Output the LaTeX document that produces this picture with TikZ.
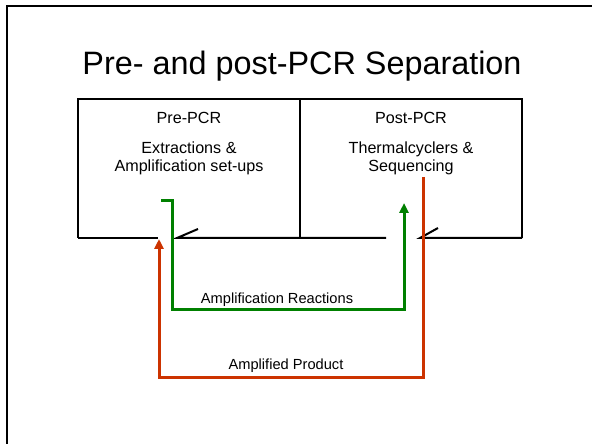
\documentclass[tikz,border=0pt]{standalone}
\usepackage{fontspec}
\setmainfont{Liberation Sans}
\usetikzlibrary{arrows.meta}
\definecolor{ampgreen}{RGB}{0,128,0}
\definecolor{prodred}{RGB}{204,51,0}
\tikzset{
  wall/.style={line width=2bp},
  greenpath/.style={ampgreen, line width=3bp},
  redpath/.style={prodred, line width=3bp},
  tip/.style={-{Triangle[length=10bp,width=9bp]}}
}
\begin{document}
\begin{tikzpicture}[x=1bp,y=-1bp]
	\useasboundingbox (0,0) rectangle (592,444);
	%рамка слайда
	\draw[wall] (7,444) -- (7,6) -- (592,6);
	\node (title) at (302,75) [anchor=base] {\fontsize{32.5}{36}\selectfont Pre- and post-PCR Separation};
	%комнаты
	\coordinate (ltop) at (78,99);
	\coordinate (lbot) at (78,238);
	\coordinate (mtop) at (300,99);
	\coordinate (mbot) at (300,238);
	\coordinate (rtop) at (522,99);
	\coordinate (rbot) at (522,238);
	\coordinate (door1a) at (158,238);
	\coordinate (door1b) at (177,238);
	\coordinate (door1c) at (198,229);
	\coordinate (door2a) at (386,238);
	\coordinate (door2b) at (420,238);
	\coordinate (door2c) at (438,228);
	\draw[wall] (lbot) -- (ltop) -- (rtop) -- (rbot);
	\draw[wall] (mtop) -- (mbot);
	\draw[wall] (lbot) -- (door1a);
	\draw[wall] (door1c) -- (door1b) -- (door2a);
	\draw[wall] (door2c) -- (door2b) -- (rbot);
	%подписи комнат
	\node (pre) at (189,124) [anchor=base] {\fontsize{16.2}{18}\selectfont Pre-PCR};
	\node (preA) at (189,154) [anchor=base] {\fontsize{16.2}{18}\selectfont Extractions \&};
	\node (preB) at (189,172) [anchor=base] {\fontsize{16.2}{18}\selectfont Amplification set-ups};
	\node (post) at (411,124) [anchor=base] {\fontsize{16.2}{18}\selectfont Post-PCR};
	\node (postA) at (411,154) [anchor=base] {\fontsize{16.2}{18}\selectfont Thermalcyclers \&};
	\node (postB) at (411,172) [anchor=base] {\fontsize{16.2}{18}\selectfont Sequencing};
	%зелёный путь
	\coordinate (g0) at (161,201);
	\coordinate (g1) at (172,201);
	\coordinate (g2) at (172,309);
	\coordinate (g3) at (404,309);
	\coordinate (g4) at (404,203);
	\draw[greenpath, tip] (g0) -- (g1) -- (g2) -- (g3) -- (g4);
	\node (reac) at (277,303) [anchor=base] {\fontsize{14.7}{16}\selectfont Amplification Reactions};
	%красный путь
	\coordinate (r0) at (423,177);
	\coordinate (r1) at (423,377);
	\coordinate (r2) at (159,377);
	\coordinate (r3) at (159,239);
	\draw[redpath, tip] (r0) -- (r1) -- (r2) -- (r3);
	\node (prod) at (286,369) [anchor=base] {\fontsize{14.7}{16}\selectfont Amplified Product};
\end{tikzpicture}
\end{document}
